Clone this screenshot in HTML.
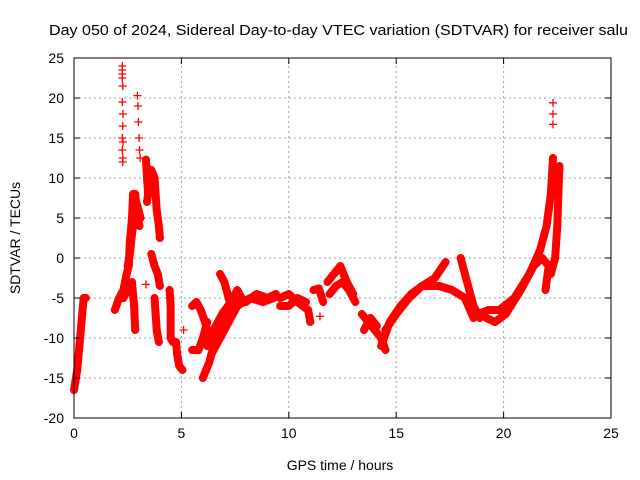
<!DOCTYPE html>
<html><head><meta charset="utf-8"><style>
body{margin:0;background:#fff;}
svg{display:block;font-family:"Liberation Sans",sans-serif;}
</style></head><body>
<svg id="chart" width="640" height="480" viewBox="0 0 640 480">
<rect width="640" height="480" fill="#fff"/>
<text x="49" y="35" font-size="14.5" fill="#000" textLength="579" lengthAdjust="spacingAndGlyphs">Day 050 of 2024, Sidereal Day-to-day VTEC variation (SDTVAR) for receiver salu</text>
<g id="grid"></g>
<g id="marks"></g>
<g id="axes"></g>
<text x="340" y="470" font-size="14" text-anchor="middle">GPS time / hours</text>
<text transform="translate(20,238) rotate(-90)" font-size="14" text-anchor="middle">SDTVAR / TECUs</text>
</svg>
<script>
const xTicks=[0,5,10,15,20,25];
const yTicks=[25,20,15,10,5,0,-5,-10,-15,-20];
const track01=[[0,-16.5],[0.15,-14],[0.25,-11],[0.35,-8],[0.45,-5],[0.55,-5]];
const track02=[[1.9,-6.5],[2.1,-5],[2.3,-4],[2.45,-2],[2.55,-1],[2.6,2],[2.7,5],[2.75,8],[2.85,8],[2.95,5],[3.05,4]];
const track03=[[2.3,-5],[2.5,-4],[2.7,-3],[2.8,-6],[2.85,-9]];
const track03b=[[2.5,-1],[2.6,0.5],[2.7,3],[2.8,5],[2.9,7],[3.0,6],[3.1,5]];
const spike01=[[2.25,24],[2.25,23.5],[2.25,23],[2.25,22.5],[2.27,21.5],[2.25,19.5],[2.28,18],[2.27,16.5],[2.25,15],[2.28,14.5],[2.25,13.5],[2.27,12.5],[2.27,12]];
const spike02=[[2.95,20.3],[2.98,19],[3.0,17],[3.03,15],[3.05,13.5],[3.08,12.5]];
const spike03=[[22.3,19.4],[22.3,18],[22.3,16.7]];
const track04=[[3.35,12.3],[3.4,10],[3.45,8],[3.4,7],[3.6,11],[3.75,10],[3.85,6],[3.95,4],[4.0,2.5]];
const track05=[[3.6,0.5],[3.75,-1],[3.9,-2],[4.0,-3.5]];
const track06=[[3.75,-5],[3.8,-7],[3.85,-9],[3.95,-10.5]];
const track07=[[4.45,-4],[4.5,-6],[4.5,-10],[4.6,-10.5]];
const track08=[[4.75,-10.5],[4.8,-12],[4.9,-13.5],[5.05,-14]];
const track09=[[5.5,-6],[5.7,-5.5],[5.9,-6.5],[6.1,-8],[6.2,-9]];
const track10=[[5.5,-11.5],[5.8,-11.5],[6.0,-10],[6.2,-8]];
const track11=[[6.0,-15],[6.3,-13],[6.6,-10],[7.0,-7],[7.4,-5],[8.0,-5.5],[8.5,-4.5],[9.0,-5],[9.4,-4.5]];
const track12=[[6.2,-11],[6.5,-9],[6.9,-7],[7.3,-5.5],[7.6,-4],[7.8,-5]];
const track12b=[[6.4,-12],[6.8,-10],[7.2,-8],[7.6,-6],[8.2,-5],[8.8,-5.5],[9.3,-5]];
const track13=[[6.8,-2],[7.0,-3],[7.2,-5],[7.4,-7]];
const track14=[[9.6,-5],[10,-4.5],[10.4,-5.5],[10.9,-6.5],[11.0,-8]];
const track14b=[[9.6,-6],[10,-6],[10.4,-5],[10.8,-5.5]];
const track15=[[11.15,-4],[11.4,-3.8],[11.6,-5.5]];
const track16=[[11.8,-3],[12.1,-2],[12.4,-1],[12.7,-3],[13.0,-4.5]];
const track17=[[11.9,-4.5],[12.2,-3.5],[12.5,-3],[12.8,-4],[13.1,-5.5]];
const track18=[[13.4,-7],[13.7,-8],[14.0,-9],[14.3,-10],[14.5,-11.5]];
const track18b=[[13.5,-9],[13.8,-7.5],[14.1,-8.5]];
const track19=[[14.3,-11],[14.7,-8],[15.2,-6],[15.7,-4.5],[16.2,-3.5],[16.8,-2.5],[17.3,-0.5]];
const track20=[[14.5,-9],[15.0,-7],[15.6,-5],[16.2,-3.5],[17.0,-3.5],[17.6,-4],[18.2,-5],[18.6,-7.5]];
const track21=[[18.0,0],[18.3,-3],[18.6,-6],[18.9,-7.5]];
const track22=[[18.8,-7],[19.3,-6.5],[19.8,-6.5],[20.5,-5],[21.2,-2],[21.7,1],[22.0,4],[22.2,8],[22.3,12.5]];
const track23=[[19.2,-7.5],[19.6,-8],[20.1,-7],[20.8,-4],[21.4,-1],[21.8,0],[22.1,-1],[21.95,-4]];
const track24=[[22.2,-2],[22.4,0],[22.5,4],[22.55,8],[22.6,11.5]];
const tracks=[track01,track02,track03,track03b,track04,track05,track06,track07,track08,track09,track10,track11,track12,track12b,track13,track14,track14b,track15,track16,track17,track18,track18b,track19,track20,track21,track22,track23,track24];
const spikes=[spike01,spike02,spike03];
const singles=[[5.1,-9],[3.35,-3.3],[11.45,-7.3]];

const X0=74,X1=611,Y0=418,Y1=58;
const xs=t=>X0+(t-0)/(25-0)*(X1-X0);
const ys=v=>Y0-(v-(-20))/(25-(-20))*(Y0-Y1);
const NS="http://www.w3.org/2000/svg";
function mk(tag,attrs,parent){const e=document.createElementNS(NS,tag);for(const k in attrs)e.setAttribute(k,attrs[k]);parent.appendChild(e);return e;}
const grid=document.getElementById('grid'),axes=document.getElementById('axes'),marks=document.getElementById('marks');
xTicks.forEach(t=>{
  const x=xs(t);
  if(t>0&&t<25){const g=mk('line',{x1:x,y1:Y0,x2:x,y2:Y1,stroke:'#a0a0a0','stroke-dasharray':'2,3'},grid);
  
  }
  mk('line',{x1:x,y1:Y0,x2:x,y2:Y0-6,stroke:'#000'},axes);
  mk('line',{x1:x,y1:Y1,x2:x,y2:Y1+6,stroke:'#000'},axes);
  const l=mk('text',{x:x,y:Y0+20,'font-size':14,'text-anchor':'middle'},axes);l.textContent=t;
  
  
});
yTicks.forEach(v=>{
  const y=ys(v);
  if(v>-20&&v<25){const g=mk('line',{x1:X0,y1:y,x2:X1,y2:y,stroke:'#a0a0a0','stroke-dasharray':'2,3'},grid);
  
  }
  mk('line',{x1:X0,y1:y,x2:X0+6,y2:y,stroke:'#000'},axes);
  mk('line',{x1:X1,y1:y,x2:X1-6,y2:y,stroke:'#000'},axes);
  const l=mk('text',{x:X0-10,y:y+5,'font-size':14,'text-anchor':'end'},axes);l.textContent=v;
  
  
});
const fr=mk('rect',{x:X0,y:Y1,width:X1-X0,height:Y0-Y1,fill:'none',stroke:'#000'},axes);


function plus(t,v){
  const x=xs(t),y=ys(v);
  const p=mk('path',{d:`M${x-4},${y}H${x+4}M${x},${y-4}V${y+4}`,stroke:'#f00','stroke-width':1.3,fill:'none'},marks);
  
  
}
tracks.forEach(tr=>{
  const pl=mk('polyline',{points:tr.map(p=>xs(p[0])+','+ys(p[1])).join(' '),stroke:'#f00','stroke-width':8,fill:'none','stroke-linejoin':'round','stroke-linecap':'round'},marks);
  
  
  tr.forEach(p=>plus(p[0],p[1]));
});
spikes.forEach(s=>s.forEach(p=>plus(p[0],p[1])));
singles.forEach(p=>plus(p[0],p[1]));
</script>
</body></html>
